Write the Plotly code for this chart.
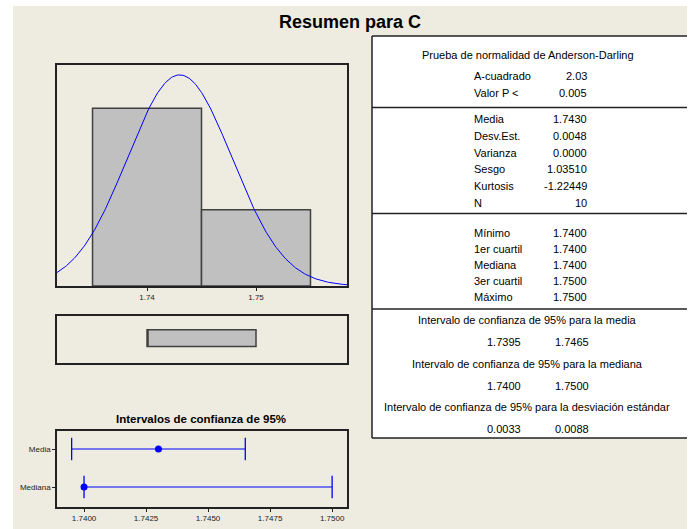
import numpy as np
import plotly.graph_objects as go

W, H = 694, 529

# histogram data (bins of width 0.01)
bin_centers = [1.74, 1.75]
bin_counts = [7, 3]
bin_width = 0.01
n_obs = 10
mean_val = 1.7430
sd_val = 0.0048

# boxplot statistics
box_q1 = [1.74]
box_median = [1.74]
box_q3 = [1.75]
box_min = [1.74]
box_max = [1.75]

# confidence intervals
ci_names = ["Media", "Mediana"]
ci_est = [1.7430, 1.7400]
ci_lo = [1.7395, 1.7400]
ci_hi = [1.7465, 1.7500]
ci_ticks = [1.74, 1.7425, 1.745, 1.7475, 1.75]

# summary table
ad_labels = ["A-cuadrado", "Valor P <"]
ad_values = ["2.03", "0.005"]
desc_labels = ["Media", "Desv.Est.", "Varianza", "Sesgo", "Kurtosis", "N"]
desc_values = ["1.7430", "0.0048", "0.0000", "1.03510", "-1.22449", "10"]
quart_labels = ["Mínimo", "1er cuartil", "Mediana", "3er cuartil", "Máximo"]
quart_values = ["1.7400", "1.7400", "1.7400", "1.7500", "1.7500"]
int_titles = ["Intervalo de confianza de 95% para la media",
              "Intervalo de confianza de 95% para la mediana",
              "Intervalo de confianza de 95% para la desviación estándar"]
int_values = [["1.7395", "1.7465"], ["1.7400", "1.7500"], ["0.0033", "0.0088"]]

FONT = "Liberation Sans, Arial, sans-serif"
NARROW = "Liberation Sans Narrow, Arial Narrow, Liberation Sans, sans-serif"
BLUE = "#0000FF"


def px(x):
    return x / W


def py(y):
    return 1 - y / H


fig = go.Figure()

# histogram + fitted normal curve
fig.add_trace(go.Bar(x=bin_centers, y=bin_counts, width=bin_width,
                     marker=dict(color="#C0C0C0", line=dict(color="#404040", width=1.5)),
                     xaxis="x", yaxis="y", showlegend=False, hoverinfo="skip"))
xr = [1.73174, 1.75835]
xs = np.linspace(xr[0], xr[1], 300)
ys = n_obs * bin_width * np.exp(-0.5 * ((xs - mean_val) / sd_val) ** 2) / (sd_val * np.sqrt(2 * np.pi))
fig.add_trace(go.Scatter(x=xs, y=ys, mode="lines", line=dict(color=BLUE, width=1),
                         xaxis="x", yaxis="y", showlegend=False, hoverinfo="skip"))

# boxplot
fig.add_trace(go.Box(y=[0], q1=box_q1, median=box_median, q3=box_q3,
                     lowerfence=box_min, upperfence=box_max, orientation="h",
                     fillcolor="#C0C0C0", line=dict(color="#404040", width=1.5),
                     width=0.36, boxpoints=False, xaxis="x2", yaxis="y2",
                     showlegend=False, hoverinfo="skip"))

# confidence intervals
for name, lo, hi in zip(ci_names, ci_lo, ci_hi):
    fig.add_trace(go.Scatter(x=[lo, hi], y=[name, name], mode="lines+markers",
                             line=dict(color=BLUE, width=1.2),
                             marker=dict(symbol="line-ns", size=16, color=BLUE,
                                         line=dict(color=BLUE, width=1.3)),
                             xaxis="x3", yaxis="y3", showlegend=False, hoverinfo="skip"))
fig.add_trace(go.Scatter(x=ci_est, y=ci_names, mode="markers",
                         marker=dict(symbol="circle", size=7, color=BLUE),
                         xaxis="x3", yaxis="y3", showlegend=False, hoverinfo="skip"))

frame = dict(showline=True, mirror=True, linecolor="#222222", linewidth=1.5,
             showgrid=False, zeroline=False)

fig.update_layout(
    width=W, height=H,
    margin=dict(l=0, r=0, t=0, b=0),
    paper_bgcolor="white",
    plot_bgcolor="white",
    font=dict(family=FONT, size=11, color="black"),
    xaxis=dict(frame, domain=[px(57), px(347)], range=xr, anchor="y",
               tickvals=[1.74, 1.75], ticktext=["1.74", "1.75"], ticks="outside",
               ticklen=3, tickcolor="#222", tickfont=dict(family=NARROW, size=8, color="#222")),
    yaxis=dict(frame, domain=[py(286), py(65)], range=[0, 8.7], anchor="x",
               showticklabels=False, ticks=""),
    xaxis2=dict(frame, domain=[px(57), px(347)], range=xr, anchor="y2",
                showticklabels=False, ticks=""),
    yaxis2=dict(frame, domain=[py(363), py(316)], range=[-0.53, 0.47], anchor="x2",
                showticklabels=False, ticks=""),
    xaxis3=dict(frame, domain=[px(57), px(347)], range=[1.73891, 1.7506], anchor="y3",
                tickvals=ci_ticks, ticktext=[f"{v:.4f}" for v in ci_ticks],
                ticks="outside", ticklen=3, tickcolor="#222",
                tickfont=dict(family=NARROW, size=8, color="#222")),
    yaxis3=dict(frame, domain=[py(507), py(431)], range=[-0.526, 1.474], anchor="x3",
                type="category", categoryorder="array", categoryarray=["Mediana", "Media"],
                ticks="outside", ticklen=3, tickcolor="#222",
                tickfont=dict(family=NARROW, size=8, color="#222")),
)

shapes = []
# beige background panel
shapes.append(dict(type="rect", xref="paper", yref="paper", layer="below",
                   x0=px(13), x1=px(687), y0=py(529), y1=py(6),
                   fillcolor="#EEEBE1", line=dict(width=0)))
# table panel
shapes.append(dict(type="rect", xref="paper", yref="paper", layer="below",
                   x0=px(372), x1=px(687), y0=py(438), y1=py(36),
                   fillcolor="white", line=dict(width=0)))
tline = dict(color="#222222", width=1.5)
for yy in [36, 107.5, 213.5, 309, 438]:
    shapes.append(dict(type="line", xref="paper", yref="paper",
                       x0=px(372), x1=px(687), y0=py(yy), y1=py(yy), line=tline))
shapes.append(dict(type="line", xref="paper", yref="paper",
                   x0=px(372), x1=px(372), y0=py(438), y1=py(36), line=tline))
fig.update_layout(shapes=shapes)

ann = []


def txt(x, y, s, anchor="center", size=11, bold=False, family=FONT):
    ann.append(dict(x=px(x), y=py(y), xref="paper", yref="paper", text=f"<b>{s}</b>" if bold else s,
                    showarrow=False, xanchor=anchor, yanchor="middle",
                    font=dict(family=family, size=size, color="black")))


txt(350, 22, "Resumen para C", size=18, bold=True)
txt(201, 419, "Intervalos de confianza de 95%", size=11.5, bold=True)

txt(528, 55, "Prueba de normalidad de Anderson-Darling")
row_h = 16.8
for i, (lab, val) in enumerate(zip(ad_labels, ad_values)):
    txt(472, 76.5 + i * 16, lab, anchor="left")
    txt(589, 76.5 + i * 16, val, anchor="right")
for i, (lab, val) in enumerate(zip(desc_labels, desc_values)):
    txt(472, 119 + i * row_h, lab, anchor="left")
    txt(589, 119 + i * row_h, val, anchor="right")
for i, (lab, val) in enumerate(zip(quart_labels, quart_values)):
    txt(472, 232.5 + i * 16.1, lab, anchor="left")
    txt(589, 232.5 + i * 16.1, val, anchor="right")
for i, (title, vals) in enumerate(zip(int_titles, int_values)):
    y0 = 320 + i * 43.5
    txt(527, y0, title)
    txt(504, y0 + 22, vals[0])
    txt(572, y0 + 22, vals[1])

fig.update_layout(annotations=ann)

fig.write_html("out.html", config={"displayModeBar": False},
               post_script="document.body.style.margin='0';document.body.style.overflow='hidden';")
